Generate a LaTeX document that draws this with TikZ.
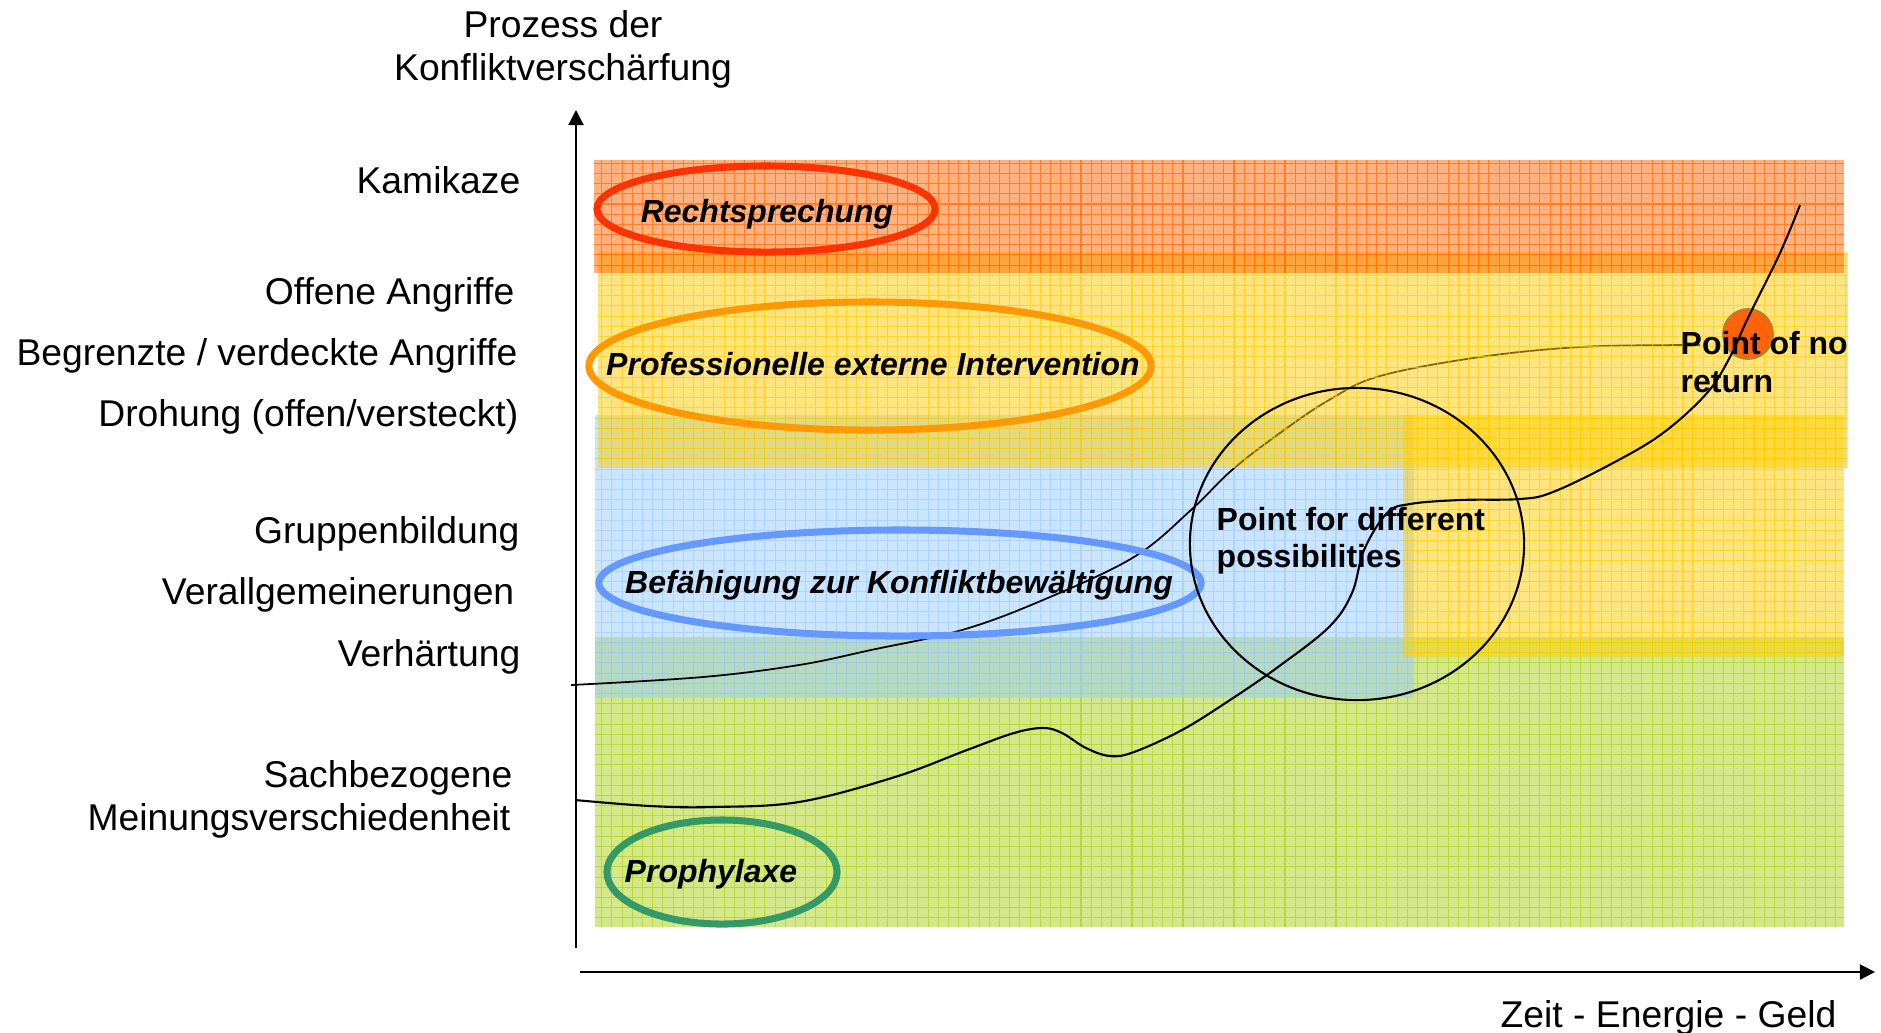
\documentclass[tikz,border=0pt]{standalone}
\usepackage{fontspec}
\setmainfont{Liberation Sans}
\usetikzlibrary{arrows.meta}

\definecolor{bandred}{HTML}{FF6600}
\definecolor{bandyellow}{HTML}{FFCC00}
\definecolor{bandblue}{HTML}{99CCFF}
\definecolor{bandgreen}{HTML}{AAD014}
\definecolor{ringred}{HTML}{FF3300}
\definecolor{ringorange}{HTML}{FF9900}
\definecolor{ringblue}{HTML}{6699FF}
\definecolor{ringgreen}{HTML}{339966}
\definecolor{dotorange}{HTML}{FF5500}
\definecolor{dotrim}{HTML}{A08A2A}

% colour, lower left, upper right
\newcommand{\gridband}[3]{%
  \fill[#1, opacity=0.5] #2 rectangle #3;
  \draw[#1, opacity=0.65, line width=0.3pt, step=2.9pt] #2 grid #3;
}

\begin{document}
\begin{tikzpicture}[x=0.01cm, y=-0.01cm,
  lbl/.style={font=\fontsize{10.6}{12.7}\selectfont, inner sep=0pt},
  ringtext/.style={font=\fontsize{9.1}{11}\selectfont\bfseries\itshape, inner sep=0pt},
  pointtext/.style={font=\fontsize{9.1}{11}\selectfont\bfseries, inner sep=0pt},
  ring/.style={line width=2pt},
  axis/.style={line width=0.6pt, -{Triangle[length=4.3pt, width=4.3pt]}}]
\useasboundingbox (0,0) rectangle (1881,1032);

% bands
\gridband{bandgreen}{(595,927)}{(1844,637)}
\gridband{bandblue}{(595,698)}{(1414,415)}
\draw[line width=0.5pt] plot[smooth, tension=0.6] coordinates {(571,685) (703,677) (799,665) (871,650) (962,630) (1043,600) (1134,557) (1191,510) (1232,470) (1280,433) (1329,400) (1380,376) (1480,357) (1580,347) (1680,345) (1700,345)};
\gridband{bandyellow}{(1403,657)}{(1844,415)}
\gridband{bandyellow}{(598,468)}{(1848,252)}
\gridband{bandred}{(594,273)}{(1844,160)}

% axes
\coordinate (ybot) at (576,948);
\coordinate (ytip) at (576,110);
\coordinate (xbeg) at (580,972);
\coordinate (xtip) at (1875,972);
\draw[axis] (ybot) -- (ytip);
\draw[axis] (xbeg) -- (xtip);

% rings
\draw[ring, ringred] (766,209) ellipse [x radius=1.69cm, y radius=0.43cm];
\draw[ring, ringorange] (870,366) ellipse [x radius=2.81cm, y radius=0.64cm];
\draw[ring, ringblue] (900,583) ellipse [x radius=3.01cm, y radius=0.53cm];
\draw[ring, ringgreen] (722,872) ellipse [x radius=1.15cm, y radius=0.52cm];
\draw[line width=0.6pt] (1357,544) ellipse [x radius=1.67cm, y radius=1.56cm];
\filldraw[fill=dotorange, draw=dotrim, line width=0.5pt, fill opacity=0.9] (1748,334) circle [radius=0.25cm];

\draw[line width=0.6pt] plot[smooth, tension=0.6] coordinates {(575,800) (650,806) (713,807) (799,802) (895,777) (967,750) (1014,733) (1043,728) (1062,733) (1086,748) (1110,756) (1134,752) (1182,730) (1230,700) (1278,667) (1329,627) (1352,593) (1364,550) (1387,513) (1410,504) (1460,500) (1520,499) (1553,492) (1613,463) (1663,433) (1707,393) (1730,357) (1747,320) (1780,253) (1800,205)};

% labels
\node[lbl, anchor=base] (title1) at (563,37) {Prozess der};
\node[lbl, anchor=base] (title2) at (563,80) {Konfliktverschärfung};
\node[lbl, anchor=base east] (kamikaze) at (521,193) {Kamikaze};
\node[lbl, anchor=base east] (offen) at (515,304) {Offene Angriffe};
\node[lbl, anchor=base east] (begrenzt) at (518,365) {Begrenzte / verdeckte Angriffe};
\node[lbl, anchor=base east] (drohung) at (519,426) {Drohung (offen/versteckt)};
\node[lbl, anchor=base east] (gruppe) at (520,543) {Gruppenbildung};
\node[lbl, anchor=base east] (verallg) at (515,604) {Verallgemeinerungen};
\node[lbl, anchor=base east] (verhaert) at (521,666) {Verhärtung};
\node[lbl, anchor=base east] (sach1) at (513,787) {Sachbezogene};
\node[lbl, anchor=base east] (sach2) at (511,830) {Meinungsverschiedenheit};
\node[lbl, anchor=base west] (xlabel) at (1500,1027) {Zeit - Energie - Geld};

\node[ringtext, anchor=base] (recht) at (767,222) {Rechtsprechung};
\node[ringtext, anchor=base] (prof) at (873,375) {Professionelle externe Intervention};
\node[ringtext, anchor=base] (befaeh) at (899,593) {Befähigung zur Konfliktbewältigung};
\node[ringtext, anchor=base] (prophy) at (711,882) {Prophylaxe};

\node[pointtext, anchor=base west] (diff1) at (1216,530) {Point for different};
\node[pointtext, anchor=base west] (diff2) at (1216,567) {possibilities};
\node[pointtext, anchor=base west] (noret1) at (1680,354) {Point of no};
\node[pointtext, anchor=base west] (noret2) at (1680,392) {return};
\end{tikzpicture}
\end{document}
